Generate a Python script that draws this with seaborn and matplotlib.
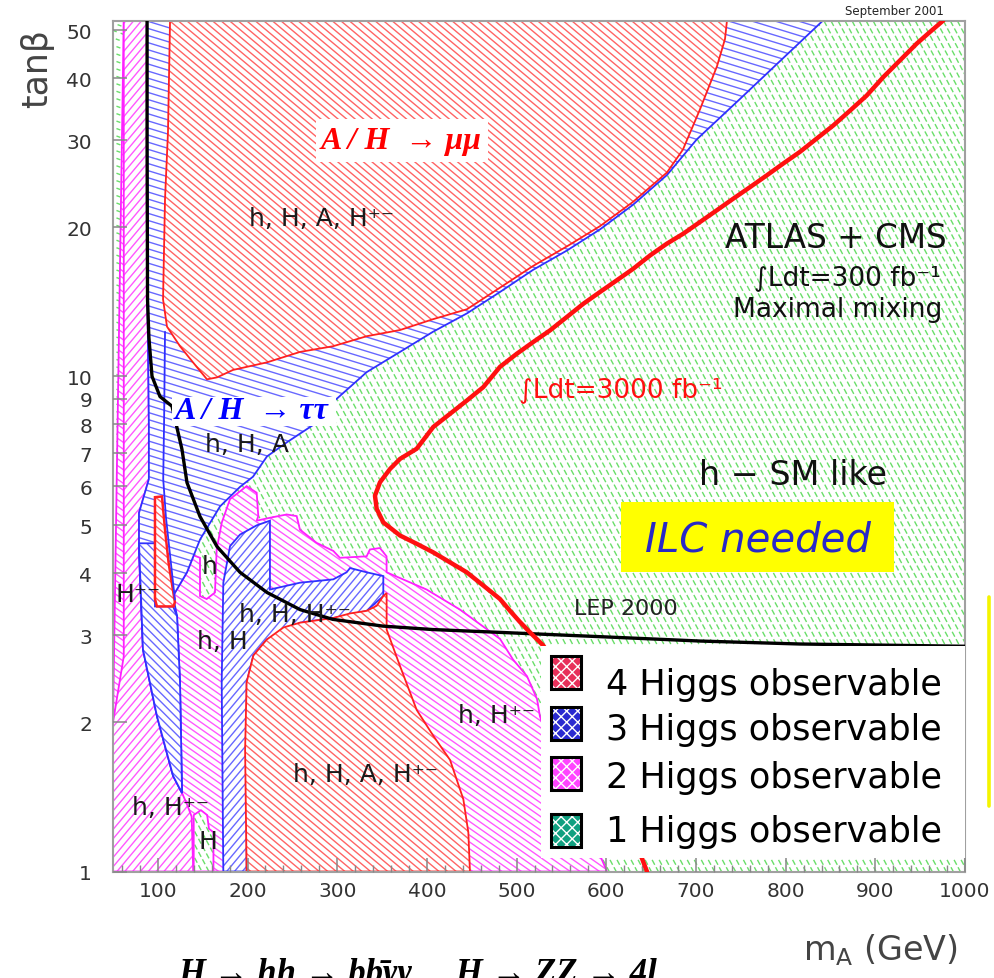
import numpy as np
import matplotlib
matplotlib.use("Agg")
import matplotlib.pyplot as plt
import seaborn as sns
from matplotlib.patches import Polygon, Rectangle
from matplotlib.collections import LineCollection
from matplotlib.lines import Line2D
from matplotlib.ticker import NullLocator, NullFormatter

sns.set_style("ticks")
plt.rcParams["font.family"] = ["DejaVu Sans"]

# ---------------- axis ticks ----------------
x_ticks = [100, 200, 300, 400, 500, 600, 700, 800, 900, 1000]
x_tick_labels = ["100", "200", "300", "400", "500", "600", "700", "800", "900", "1000"]
y_ticks = [1, 2, 3, 4, 5, 6, 7, 8, 9, 10, 20, 30, 40, 50]
y_tick_labels = ["1", "2", "3", "4", "5", "6", "7", "8", "9", "10", "20", "30", "40", "50"]

# ---------------- regions (m_A in GeV, tan beta) ----------------
# whole plane: 1 Higgs observable
one_higgs_x = [50, 1000, 1000, 50]
one_higgs_y = [1.0, 1.0, 52.3, 52.3]

# narrow 1-Higgs strip at low m_A
one_strip_x = [50, 63.4, 63.4, 50]
one_strip_y = [2.0, 2.72, 52.3, 52.3]

# 2 Higgs observable: large band below the LEP-ish boundary
two_main_x = [62, 91, 93, 100, 116.9, 132.5, 140, 147, 147, 154.5, 163.7, 165.6, 171.2,
              180.5, 199, 210.2, 212, 210.2, 225, 243.7, 254.8, 258.5, 277, 295.6, 303,
              332.8, 336.5, 347.6, 355, 355.1, 399.7, 436.9, 481.5, 496, 511.6, 522.8,
              526, 548, 582, 600.8, 50, 50]
two_main_y = [52.3, 52.3, 10, 4.5, 3.6, 4.02, 4.35, 4.3, 3.6, 3.55, 3.66, 4.47, 5.06,
              5.65, 6.0, 5.82, 5.22, 5.11, 5.18, 5.26, 5.22, 4.9, 4.61, 4.44, 4.3,
              4.33, 4.47, 4.5, 4.33, 4.02, 3.71, 3.38, 2.95, 2.68, 2.48, 2.23,
              2.06, 1.53, 1.2, 1.0, 1.0, 2.0]

# 2 Higgs observable: left strip + low-mass corner
two_left_x = [50, 50, 62, 62, 88, 88.5, 90, 90, 79, 79, 83.4, 99, 117, 127, 133, 137.7, 139.5]
two_left_y = [1.0, 2.0, 2.72, 52.3, 52.3, 14, 8, 6.2, 5.3, 4.4, 2.81, 2.06, 1.56, 1.44, 1.36, 1.29, 1.0]

# 3 Higgs observable: upper wedge incl. the A/H -> tautau tongue
three_up_x = [88, 841.7, 793.7, 749, 701, 667.7, 629.8, 593, 556.2, 518.3, 481.5, 444.7,
              406.8, 370, 333, 295.3, 277.5, 244, 221.7, 206.1, 191.6, 169.3, 147, 132.5,
              116.9, 121.4, 124.7, 127, 117, 99, 83.4, 79, 79, 90, 90, 88.5]
three_up_y = [52.3, 52.3, 43.3, 36.3, 30.1, 25.5, 22.2, 19.8, 17.95, 16.4, 14.8, 13.4,
              12.3, 11.2, 10.2, 8.87, 8.07, 7.36, 6.89, 6.27, 5.98, 5.46, 4.68, 4.02,
              3.6, 3.28, 2.41, 1.44, 1.56, 2.06, 2.81, 4.4, 5.3, 6.2, 8, 14]

# 3 Higgs observable: low-mass pocket
three_low_x = [79, 96.8, 96.8, 117, 121.4, 124.7, 127, 117, 99, 83.4]
three_low_y = [4.6, 4.6, 3.43, 3.43, 3.28, 2.41, 1.44, 1.56, 2.06, 2.81]

# 3 Higgs observable: h, H, H+- band
three_mid_x = [173, 171.2, 173, 180.5, 191.6, 210.2, 225, 225, 258.5, 295.6, 310.5, 314.3,
               332.8, 351.4, 351.4, 332.8, 295.6, 258.5, 221.4, 206.5, 199, 199]
three_mid_y = [1.0, 2.41, 3.83, 4.54, 4.79, 5.0, 5.11, 3.71, 3.83, 3.89, 4.02, 4.1,
               4.02, 3.95, 3.6, 3.36, 3.25, 3.18, 2.94, 2.73, 2.41, 1.0]

# 4 Higgs observable: narrow sliver near 110 GeV
four_narrow_x = [96.8, 104.6, 108, 112, 119, 117.5, 99, 96.8]
four_narrow_y = [5.7, 5.72, 4.9, 4.2, 3.5, 3.43, 3.43, 3.55]

# 4 Higgs observable: low tan beta region
four_low_x = [199, 197.3, 199, 206.5, 221.4, 240, 258.5, 295.6, 314.3, 332.8, 344, 351.4,
              355.1, 355.1, 370, 388.6, 407.1, 425.8, 440.6, 446.2, 448]
four_low_y = [1.0, 1.76, 2.41, 2.73, 2.94, 3.11, 3.18, 3.25, 3.32, 3.36, 3.44, 3.6,
              3.65, 3.08, 2.6, 2.12, 1.88, 1.68, 1.40, 1.2, 1.0]

# 4 Higgs observable: high tan beta region
four_up_x = [113.6, 111.3, 108, 105.8, 110.2, 124.7, 139.2, 154.8, 166, 183.8, 221.7, 258.5,
             295.3, 333, 370, 406.8, 444.7, 481.5, 518.3, 556.2, 593, 629.8, 667.7, 685.5,
             704.5, 723.5, 732.4, 734.6]
four_up_y = [52.3, 31.1, 22.8, 14.3, 12.6, 11.5, 10.67, 9.86, 9.95, 10.3, 10.67, 11.2,
             11.5, 12.05, 12.4, 13.04, 13.66, 15.1, 16.7, 18.3, 20.1, 22.5, 25.8, 28.7,
             34.6, 42.3, 48, 52.3]

# small 1-Higgs pocket at the bottom
one_pocket_x = [140, 140, 148, 155, 157, 162, 162]
one_pocket_y = [1.0, 1.3, 1.33, 1.3, 1.22, 1.2, 1.0]

# boundary inside the 3-Higgs area
tongue_edge_x = [108, 107, 106, 109, 119]
tongue_edge_y = [12.3, 8.2, 6.2, 5.2, 3.54]

# ---------------- curves ----------------
lep_x = [88, 88, 88.5, 90, 93.5, 102.4, 115.8, 126.9, 132.5, 147, 166, 191.6, 221.7, 258.5,
         295, 351, 407, 481.5, 593, 704.5, 816, 1000]
lep_y = [52.3, 30, 14.3, 12.0, 10.0, 9.1, 8.7, 7.12, 6.1, 5.21, 4.53, 4.02, 3.66, 3.38,
         3.23, 3.13, 3.08, 3.04, 2.98, 2.92, 2.88, 2.85]

lumi3000_x = [975.8, 961, 946.1, 927.5, 908.9, 890.4, 871.8, 853.1, 834.6, 816, 797.4, 778.9,
              760.3, 741.6, 723.1, 704.5, 685.9, 667.4, 648.8, 630.1, 611.6, 593, 574.4,
              555.9, 537.3, 518.6, 500.1, 481.5, 462.9, 444.4, 425.8, 407.1, 388.6, 370,
              358.9, 347.7, 342.1, 344, 351.4, 370, 388.6, 407.1, 425.8, 444.4, 462.9, 481.5,
              492.7, 503.8, 515, 529.8, 560, 590, 615, 635, 645.4]
lumi3000_y = [52.3, 49.6, 46.96, 43.45, 40.2, 36.9, 34.4, 32.1, 30.2, 28.4, 26.9, 25.45,
              24.1, 22.84, 21.63, 20.49, 19.41, 18.52, 17.54, 16.49, 15.62, 14.8, 14.01,
              13.17, 12.38, 11.73, 11.1, 10.45, 9.51, 8.93, 8.40, 7.90, 7.14, 6.81,
              6.50, 6.11, 5.74, 5.40, 5.07, 4.77, 4.59, 4.41, 4.21, 4.02, 3.78, 3.55,
              3.36, 3.19, 3.04, 2.86, 2.35, 1.8, 1.4, 1.12, 1.0]

# ---------------- region labels ----------------
region_labels = ["h, H, A, H\u207a\u207b", "h, H, A", "h", "H\u207a\u207b", "h, H, H\u207a\u207b",
                 "h, H", "h, H\u207a\u207b", "h, H, A, H\u207a\u207b", "h, H\u207a\u207b", "H"]
region_label_x = [282, 199, 158, 78, 253, 171.5, 478, 332, 113.6, 156]
region_label_y = [20.9, 7.29, 4.13, 3.63, 3.31, 2.92, 2.07, 1.57, 1.35, 1.15]

legend_labels = ["4 Higgs observable", "3 Higgs observable",
                 "2 Higgs observable", "1 Higgs observable"]
legend_colors = ["#e8305a", "#2a2ad0", "#ff44ff", "#10a080"]

# ---------------- figure ----------------
W, H, DPI = 994, 979, 100
fig = plt.figure(figsize=(W / DPI, H / DPI), dpi=DPI)
L, R, B, T = 113 / W, 965 / W, 1 - 872.5 / H, 1 - 21.5 / H
ax = fig.add_axes([L, B, R - L, T - B])
ax.set_yscale("log")
ax.set_xlim(50, 1000)
ax.set_ylim(1, 52.3)
AX_W, AX_H = (R - L) * W, (T - B) * H


def fx(px):
    return px / W


def fy(py):
    return 1 - py / H


def hatched(xs, ys, hcolor, ecolor, angle, spacing, z, lw=1.0, ls="solid", elw=1.3):
    poly = Polygon(np.column_stack([xs, ys]), closed=True, transform=ax.transData,
                   facecolor="white", edgecolor="none", zorder=z)
    ax.add_patch(poly)
    th = np.deg2rad(angle)
    d = np.array([np.cos(th), np.sin(th)])
    n = np.array([-np.sin(th), np.cos(th)])
    diag = np.hypot(AX_W, AX_H)
    c = np.array([AX_W / 2, AX_H / 2])
    segs = []
    for o in np.arange(-diag, diag, spacing):
        p0 = c + o * n - diag * d
        p1 = c + o * n + diag * d
        segs.append([(p0[0] / AX_W, p0[1] / AX_H), (p1[0] / AX_W, p1[1] / AX_H)])
    lc = LineCollection(segs, colors=hcolor, linewidths=lw, linestyles=ls,
                        transform=ax.transAxes, zorder=z + 0.01)
    ax.add_collection(lc, autolim=False)
    lc.set_clip_path(poly)
    if ecolor is not None:
        ax.add_patch(Polygon(np.column_stack([xs, ys]), closed=True, fill=False,
                             edgecolor=ecolor, linewidth=elw, zorder=z + 0.02,
                             transform=ax.transData))


RED_H, RED_E = "#ff6464", "#ff2020"
BLUE_H, BLUE_E = "#6868ff", "#3030ff"
PINK_H, PINK_E = "#ff58ff", "#ff20ff"
GREEN_H, GREEN_E = "#6ade6a", "#40d040"

hatched(one_higgs_x, one_higgs_y, GREEN_H, None, -62, 6.2, 0.20, ls=[(0, (4, 2))])
hatched(one_strip_x, one_strip_y, GREEN_H, None, -20, 7.0, 0.30, ls=[(0, (3, 3))])
hatched(two_main_x, two_main_y, PINK_H, PINK_E, -35, 5.6, 0.40)
hatched(two_left_x, two_left_y, PINK_H, PINK_E, 50, 6.0, 0.50)
hatched(three_up_x, three_up_y, BLUE_H, BLUE_E, -17, 6.8, 0.60)
hatched(three_low_x, three_low_y, BLUE_H, BLUE_E, -45, 6.0, 0.70)
hatched(three_mid_x, three_mid_y, BLUE_H, BLUE_E, 50, 6.0, 0.80)
hatched(four_narrow_x, four_narrow_y, RED_H, RED_E, -40, 5.5, 0.90, elw=1.8)
hatched(four_low_x, four_low_y, RED_H, RED_E, -40, 5.5, 1.00)
hatched(four_up_x, four_up_y, RED_H, RED_E, -40, 5.5, 1.10)
hatched(one_pocket_x, one_pocket_y, GREEN_H, PINK_E, -62, 6.2, 1.20, ls=[(0, (4, 2))])

ax.plot(tongue_edge_x, tongue_edge_y, color=BLUE_E, lw=1.3, zorder=1.3)

# LEP 2000 exclusion and 3000 fb^-1 contour
sns.lineplot(x=lep_x, y=lep_y, sort=False, estimator=None, color="black", lw=2.4,
             ax=ax, zorder=3)
sns.lineplot(x=lumi3000_x, y=lumi3000_y, sort=False, estimator=None, color="#ff1010",
             lw=3.2, ax=ax, zorder=3)

# region labels
for t, x, y in zip(region_labels, region_label_x, region_label_y):
    ax.text(x, y, t, fontsize=18, color="#1a1a1a", ha="center", va="center", zorder=5)

ax.text(856, 19.1, "ATLAS + CMS", fontsize=23.5, ha="center", va="center", color="#111",
        zorder=5)
ax.text(868.5, 15.85, "\u222bLdt=300 fb\u207b\u00b9", fontsize=19, ha="center", va="center",
        color="#111", zorder=5)
ax.text(858.5, 13.66, "Maximal mixing", fontsize=19, ha="center", va="center", color="#111",
        zorder=5)
ax.text(616.5, 9.42, "\u222bLdt=3000 fb\u207b\u00b9", fontsize=19, ha="center", va="center",
        color="#ff1010", zorder=5)
ax.text(808, 6.34, "h \u2212 SM like", fontsize=24, ha="center", va="center", color="#111",
        zorder=5)
ax.text(622, 3.41, "LEP 2000", fontsize=16, ha="center", va="center", color="#222", zorder=5)

ax.set_xlim(50, 1000)
ax.set_ylim(1, 52.3)

# axes styling
for s in ax.spines.values():
    s.set_color("#a0a0a0")
    s.set_linewidth(1.5)
ax.set_xticks(x_ticks, labels=x_tick_labels)
ax.set_xticks(np.arange(60, 1000, 20), minor=True)
ax.set_yticks(y_ticks, labels=y_tick_labels)
ax.yaxis.set_minor_locator(NullLocator())
ax.yaxis.set_minor_formatter(NullFormatter())
ax.tick_params(axis="both", which="major", direction="in", length=10, width=1.1,
               color="#888888", labelsize=14.5, labelcolor="#333333")
ax.tick_params(axis="both", which="minor", direction="in", length=5, width=1.0,
               color="#888888")
ax.tick_params(axis="x", which="major", pad=7)
ax.tick_params(axis="y", which="major", pad=15)
ax.set_axisbelow(False)

# legend panel
lx0, lx1 = (541 - 113) / AX_W, 1.0
ly0, ly1 = (872.5 - 859) / AX_H, (872.5 - 647) / AX_H
ax.add_patch(Rectangle((lx0, ly0), lx1 - lx0, ly1 - ly0, transform=ax.transAxes,
                       facecolor="white", edgecolor="none", zorder=4))
sw_top = [657, 708, 758, 815]
txt_base = [695, 740, 788, 842]
for lab, col, t0, tb in zip(legend_labels, legend_colors, sw_top, txt_base):
    fig.add_artist(Rectangle((fx(551), fy(t0 + 33)), 30 / W, 33 / H, transform=fig.transFigure,
                             facecolor=col, edgecolor="white", linewidth=0, hatch="xxx",
                             zorder=6))
    fig.add_artist(Rectangle((fx(551), fy(t0 + 33)), 30 / W, 33 / H, transform=fig.transFigure,
                             fill=False, edgecolor="black", linewidth=2.2, zorder=6.1))
    fig.text(fx(606), fy(tb), lab, fontsize=25.2, ha="left", va="baseline",
             color="black", zorder=6)

# decay channel annotations
fig.add_artist(Rectangle((fx(316), fy(163)), 172 / W, 43 / H, transform=fig.transFigure,
                         facecolor="white", edgecolor="none", zorder=6))
fig.text(fx(401), fy(141), "A / H  \u2192 \u03bc\u03bc", fontsize=23, color="#ff0000",
         family=["Liberation Serif", "DejaVu Serif"], style="italic", weight="bold",
         ha="center", va="center", zorder=7)
fig.add_artist(Rectangle((fx(172), fy(427)), 164 / W, 29 / H, transform=fig.transFigure,
                         facecolor="white", edgecolor="none", zorder=6))
fig.text(fx(252), fy(412), "A / H  \u2192 \u03c4\u03c4", fontsize=23, color="#0000ff",
         family=["Liberation Serif", "DejaVu Serif"], style="italic", weight="bold",
         ha="center", va="center", zorder=7)

# ILC box
fig.add_artist(Rectangle((fx(621), fy(573)), 273 / W, 70 / H, transform=fig.transFigure,
                         facecolor="#ffff00", edgecolor="none", zorder=6))
fig.text(fx(758), fy(540), "ILC needed", fontsize=29, color="#2828c8", style="italic",
         ha="center", va="center", zorder=7)

# marker bar on the right margin
fig.add_artist(Line2D([fx(989), fx(989)], [fy(598), fy(807)], transform=fig.transFigure,
                      color="#f4f400", lw=2.6, zorder=6))

# axis titles and stamps
fig.text(fx(37), fy(68), "tan\u03b2", rotation=90, fontsize=25, color="#444444",
         ha="center", va="center")
fig.text(fx(880), fy(950), r"m$_\mathregular{A}$ (GeV)", fontsize=24, color="#444444",
         ha="center", va="center")
fig.text(fx(894), fy(12), "September 2001", fontsize=8.5, color="#222222",
         ha="center", va="center")
fig.text(fx(178), fy(983), "H \u2192 hh \u2192 bb\u0304\u03b3\u03b3 ,   H \u2192 ZZ \u2192 4l",
         fontsize=25, family=["Liberation Serif", "DejaVu Serif"], style="italic",
         weight="bold", ha="left", va="baseline", color="black")

fig.savefig("out.png", dpi=DPI)
